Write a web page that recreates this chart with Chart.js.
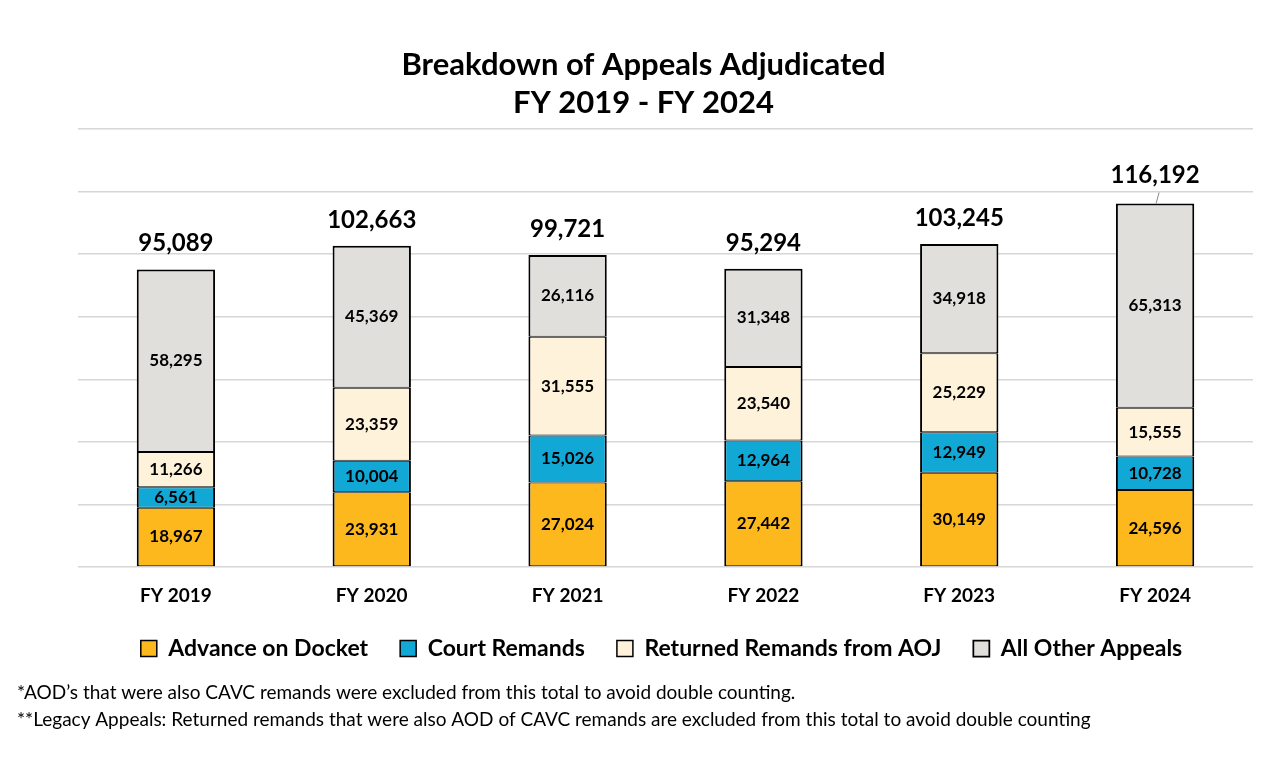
<!DOCTYPE html>
<html>
<head>
<meta charset="utf-8">
<script src="https://cdn.jsdelivr.net/npm/chart.js@4.4.1/dist/chart.umd.min.js"></script>
<style>
  html, body { margin: 0; padding: 0; background: #fff; }
  #wrap { width: 1287px; height: 765px; position: relative; }
</style>
</head>
<body>
<div id="wrap"><canvas id="myChart1"></canvas></div>
<script>
const years = ['FY 2019', 'FY 2020', 'FY 2021', 'FY 2022', 'FY 2023', 'FY 2024'];
const advanceOnDocket = [18967, 23931, 27024, 27442, 30149, 24596];
const courtRemands = [6561, 10004, 15026, 12964, 12949, 10728];
const returnedRemands = [11266, 23359, 31555, 23540, 25229, 15555];
const allOtherAppeals = [58295, 45369, 26116, 31348, 34918, 65313];
const totals = [95089, 102663, 99721, 95294, 103245, 116192];

const footnotes = [
    '*AOD\u2019s that were also CAVC remands were excluded from this total to avoid double counting.',
    '**Legacy Appeals: Returned remands that were also AOD of CAVC remands are excluded from this total to avoid double counting'
];

const FONT = 'Lato, "Open Sans", sans-serif';

// numbers inside each segment + totals on top
const barLabels = {
    id: 'barLabels',
    afterDatasetsDraw(chart) {
        const { ctx } = chart;
        ctx.save();
        ctx.textAlign = 'center';
        ctx.textBaseline = 'middle';
        ctx.fillStyle = '#000';
        ctx.font = 'bold 17px ' + FONT;
        chart.data.datasets.forEach((ds, i) => {
            chart.getDatasetMeta(i).data.forEach((bar, j) => {
                const mid = (bar.y + bar.base) / 2;
                ctx.fillText(ds.data[j].toLocaleString('en-US'), bar.x, mid);
            });
        });
        const top = chart.getDatasetMeta(chart.data.datasets.length - 1).data;
        ctx.font = 'bold 24px ' + FONT;
        top.forEach((bar, j) => {
            let off = 26;
            if (j === top.length - 1) {
                off = 28;
                ctx.strokeStyle = '#888';
                ctx.lineWidth = 1;
                ctx.beginPath();
                ctx.moveTo(bar.x + 4, bar.y - 11);
                ctx.lineTo(bar.x + 1, bar.y);
                ctx.stroke();
            }
            ctx.fillText(totals[j].toLocaleString('en-US'), bar.x, bar.y - off);
        });
        ctx.restore();
    },
    afterLayout(chart) {
        // legend in the reference sits a bit right of the page centre
        chart.legend.left += 18;
        chart.legend.right += 18;
    },
    afterDraw(chart) {
        const { ctx } = chart;
        ctx.save();
        ctx.fillStyle = '#000';
        ctx.textAlign = 'left';
        ctx.textBaseline = 'middle';
        ctx.font = '19px ' + FONT;
        ctx.fillText(footnotes[0], 17, 693);
        ctx.fillText(footnotes[1], 17, 720);
        ctx.restore();
    }
};

const mk = (label, data, color, topW) => ({
    label: label,
    data: data,
    backgroundColor: color,
    borderColor: '#000',
    borderWidth: { top: topW, bottom: 1, left: 2, right: 2 },
    borderSkipped: false,
    barPercentage: 0.4,
    categoryPercentage: 1.0
});

new Chart('myChart1', {
    type: 'bar',
    data: {
        labels: years,
        datasets: [
            mk('Advance on Docket', advanceOnDocket, '#FDB81E', 1),
            mk('Court Remands', courtRemands, '#12A8D6', 1),
            mk('Returned Remands from AOJ', returnedRemands, '#FFF2DB', 1),
            mk('All Other Appeals', allOtherAppeals, '#E1DFDC', 2)
        ]
    },
    options: {
        responsive: true,
        maintainAspectRatio: false,
        animation: false,
        layout: { padding: { left: 0, right: 0, top: 0, bottom: 95 } },
        plugins: {
            tooltip: { enabled: false },
            title: {
                display: true,
                text: ['Breakdown of Appeals Adjudicated', 'FY 2019 - FY 2024'],
                color: '#000',
                font: { family: FONT, size: 31, weight: 'bold', lineHeight: 1.226 },
                padding: { top: 46, bottom: 7 }
            },
            legend: {
                position: 'bottom',
                labels: {
                    color: '#000',
                    font: { family: FONT, size: 23, weight: 'bold' },
                    boxWidth: 16,
                    boxHeight: 16,
                    padding: 32
                }
            }
        },
        scales: {
            x: {
                stacked: true,
                grid: { display: false, drawTicks: true, tickLength: 19 },
                border: { display: false },
                ticks: { color: '#000', font: { family: FONT, size: 19, weight: 'bold', lineHeight: 1.0 }, padding: 0 }
            },
            y: {
                stacked: true,
                min: 0,
                max: 140000,
                ticks: { display: false, stepSize: 20000 },
                border: { display: false },
                grid: { color: '#D6D6D6', lineWidth: 1.5, drawTicks: false },
                afterFit(axis) { axis.width = 78; }
            },
            y2: {
                position: 'right',
                min: 0,
                max: 140000,
                ticks: { display: false },
                border: { display: false },
                grid: { display: false, drawTicks: false },
                afterFit(axis) { axis.width = 34; }
            }
        }
    },
    plugins: [barLabels]
});
</script>
</body>
</html>
